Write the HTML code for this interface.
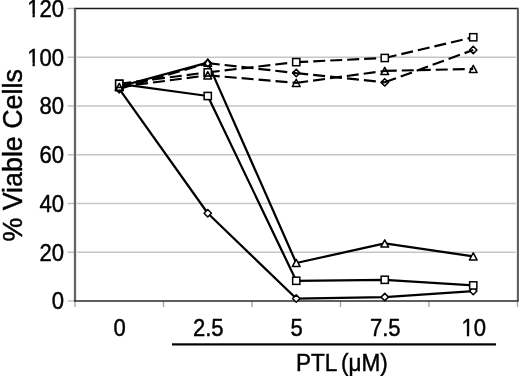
<!DOCTYPE html><html><head><meta charset="utf-8"><style>html,body{margin:0;padding:0;background:#fff;width:520px;height:376px;overflow:hidden}svg{display:block;filter:grayscale(1)}text{font-family:"Liberation Sans",sans-serif;fill:#000}</style></head><body>
<svg width="520" height="376" viewBox="0 0 520 376">
<line x1="76.8" y1="252.25" x2="515.9" y2="252.25" stroke="#c6c6c6" stroke-width="1.5"/>
<line x1="76.8" y1="203.50" x2="515.9" y2="203.50" stroke="#c6c6c6" stroke-width="1.5"/>
<line x1="76.8" y1="154.75" x2="515.9" y2="154.75" stroke="#c6c6c6" stroke-width="1.5"/>
<line x1="76.8" y1="106.00" x2="515.9" y2="106.00" stroke="#c6c6c6" stroke-width="1.5"/>
<line x1="76.8" y1="57.25" x2="515.9" y2="57.25" stroke="#c6c6c6" stroke-width="1.5"/>
<line x1="67.6" y1="301.00" x2="75.0" y2="301.00" stroke="#bdbdbd" stroke-width="1.4"/>
<line x1="67.6" y1="252.25" x2="75.0" y2="252.25" stroke="#bdbdbd" stroke-width="1.4"/>
<line x1="67.6" y1="203.50" x2="75.0" y2="203.50" stroke="#bdbdbd" stroke-width="1.4"/>
<line x1="67.6" y1="154.75" x2="75.0" y2="154.75" stroke="#bdbdbd" stroke-width="1.4"/>
<line x1="67.6" y1="106.00" x2="75.0" y2="106.00" stroke="#bdbdbd" stroke-width="1.4"/>
<line x1="67.6" y1="57.25" x2="75.0" y2="57.25" stroke="#bdbdbd" stroke-width="1.4"/>
<line x1="67.6" y1="8.50" x2="75.0" y2="8.50" stroke="#bdbdbd" stroke-width="1.4"/>
<line x1="75.00" y1="301.0" x2="75.00" y2="307" stroke="#a8a8a8" stroke-width="1.4"/>
<line x1="163.50" y1="301.0" x2="163.50" y2="307" stroke="#a8a8a8" stroke-width="1.4"/>
<line x1="252.00" y1="301.0" x2="252.00" y2="307" stroke="#a8a8a8" stroke-width="1.4"/>
<line x1="340.50" y1="301.0" x2="340.50" y2="307" stroke="#a8a8a8" stroke-width="1.4"/>
<line x1="429.00" y1="301.0" x2="429.00" y2="307" stroke="#a8a8a8" stroke-width="1.4"/>
<line x1="517.50" y1="301.0" x2="517.50" y2="307" stroke="#a8a8a8" stroke-width="1.4"/>
<line x1="74.0" y1="8.5" x2="518.5" y2="8.5" stroke="#1a1a1a" stroke-width="1.3"/>
<line x1="517.9" y1="8.5" x2="517.9" y2="301.0" stroke="#5e5e5e" stroke-width="2.1"/>
<line x1="75.0" y1="8.5" x2="75.0" y2="301.0" stroke="#646464" stroke-width="2.3"/>
<line x1="74.0" y1="301.0" x2="518.5" y2="301.0" stroke="#2a2a2a" stroke-width="1.6"/>
<polyline points="119.25,88.94 207.75,213.25 296.25,298.56 384.75,297.10 473.25,291.01" fill="none" stroke="#000" stroke-width="2.25" stroke-linejoin="round"/>
<polyline points="119.25,83.82 207.75,96.01 296.25,280.77 384.75,279.79 473.25,285.40" fill="none" stroke="#000" stroke-width="2.25" stroke-linejoin="round"/>
<polyline points="119.25,86.50 207.75,62.61 296.25,262.98 384.75,243.47 473.25,256.39" fill="none" stroke="#000" stroke-width="2.25" stroke-linejoin="round"/>
<path d="M119.25 88.94L207.75 63.10M207.75 63.10L296.25 73.09M296.25 73.09L384.75 82.36M384.75 82.36L473.25 49.94" fill="none" stroke="#000" stroke-width="2.15" stroke-dasharray="12 5"/>
<path d="M119.25 83.82L207.75 72.36M207.75 72.36L296.25 62.12M296.25 62.12L384.75 57.98M384.75 57.98L473.25 37.26" fill="none" stroke="#000" stroke-width="2.15" stroke-dasharray="12 5"/>
<path d="M119.25 86.99L207.75 75.29M207.75 75.29L296.25 82.84M296.25 82.84L384.75 70.90M384.75 70.90L473.25 68.95" fill="none" stroke="#000" stroke-width="2.15" stroke-dasharray="12 5"/>
<polygon points="119.25,85.24 122.95,88.94 119.25,92.64 115.55,88.94" fill="#fff" stroke="#000" stroke-width="1.5" stroke-linejoin="round"/>
<polygon points="207.75,209.55 211.45,213.25 207.75,216.95 204.05,213.25" fill="#fff" stroke="#000" stroke-width="1.5" stroke-linejoin="round"/>
<polygon points="296.25,294.86 299.95,298.56 296.25,302.26 292.55,298.56" fill="#fff" stroke="#000" stroke-width="1.5" stroke-linejoin="round"/>
<polygon points="384.75,293.40 388.45,297.10 384.75,300.80 381.05,297.10" fill="#fff" stroke="#000" stroke-width="1.5" stroke-linejoin="round"/>
<polygon points="473.25,287.31 476.95,291.01 473.25,294.71 469.55,291.01" fill="#fff" stroke="#000" stroke-width="1.5" stroke-linejoin="round"/>
<rect x="115.65" y="80.22" width="7.2" height="7.2" fill="#fff" stroke="#000" stroke-width="1.5"/>
<rect x="204.15" y="92.41" width="7.2" height="7.2" fill="#fff" stroke="#000" stroke-width="1.5"/>
<rect x="292.65" y="277.17" width="7.2" height="7.2" fill="#fff" stroke="#000" stroke-width="1.5"/>
<rect x="381.15" y="276.19" width="7.2" height="7.2" fill="#fff" stroke="#000" stroke-width="1.5"/>
<rect x="469.65" y="281.80" width="7.2" height="7.2" fill="#fff" stroke="#000" stroke-width="1.5"/>
<polygon points="119.25,82.90 123.15,90.15 115.35,90.15" fill="#fff" stroke="#000" stroke-width="1.5" stroke-linejoin="round"/>
<polygon points="207.75,59.01 211.65,66.26 203.85,66.26" fill="#fff" stroke="#000" stroke-width="1.5" stroke-linejoin="round"/>
<polygon points="296.25,259.38 300.15,266.62 292.35,266.62" fill="#fff" stroke="#000" stroke-width="1.5" stroke-linejoin="round"/>
<polygon points="384.75,239.88 388.65,247.12 380.85,247.12" fill="#fff" stroke="#000" stroke-width="1.5" stroke-linejoin="round"/>
<polygon points="473.25,252.79 477.15,260.04 469.35,260.04" fill="#fff" stroke="#000" stroke-width="1.5" stroke-linejoin="round"/>
<polygon points="119.25,85.24 122.95,88.94 119.25,92.64 115.55,88.94" fill="none" stroke="#000" stroke-width="1.5" stroke-linejoin="round"/>
<polygon points="207.75,59.40 211.45,63.10 207.75,66.80 204.05,63.10" fill="none" stroke="#000" stroke-width="1.5" stroke-linejoin="round"/>
<polygon points="296.25,69.39 299.95,73.09 296.25,76.79 292.55,73.09" fill="none" stroke="#000" stroke-width="1.5" stroke-linejoin="round"/>
<polygon points="384.75,78.66 388.45,82.36 384.75,86.06 381.05,82.36" fill="none" stroke="#000" stroke-width="1.5" stroke-linejoin="round"/>
<polygon points="473.25,46.24 476.95,49.94 473.25,53.64 469.55,49.94" fill="none" stroke="#000" stroke-width="1.5" stroke-linejoin="round"/>
<rect x="115.65" y="80.22" width="7.2" height="7.2" fill="#fff" stroke="#000" stroke-width="1.5"/>
<rect x="204.15" y="68.76" width="7.2" height="7.2" fill="#fff" stroke="#000" stroke-width="1.5"/>
<rect x="292.65" y="58.52" width="7.2" height="7.2" fill="#fff" stroke="#000" stroke-width="1.5"/>
<rect x="381.15" y="54.38" width="7.2" height="7.2" fill="#fff" stroke="#000" stroke-width="1.5"/>
<rect x="469.65" y="33.66" width="7.2" height="7.2" fill="#fff" stroke="#000" stroke-width="1.5"/>
<polygon points="119.25,83.39 123.15,90.64 115.35,90.64" fill="none" stroke="#000" stroke-width="1.5" stroke-linejoin="round"/>
<polygon points="207.75,71.69 211.65,78.94 203.85,78.94" fill="none" stroke="#000" stroke-width="1.5" stroke-linejoin="round"/>
<polygon points="296.25,79.24 300.15,86.49 292.35,86.49" fill="none" stroke="#000" stroke-width="1.5" stroke-linejoin="round"/>
<polygon points="384.75,67.30 388.65,74.55 380.85,74.55" fill="none" stroke="#000" stroke-width="1.5" stroke-linejoin="round"/>
<polygon points="473.25,65.35 477.15,72.60 469.35,72.60" fill="none" stroke="#000" stroke-width="1.5" stroke-linejoin="round"/>
<text transform="translate(64.00,309.40) scale(0.94,1)" font-size="23.5" text-anchor="end" stroke="#000" stroke-width="0.45">0</text>
<text transform="translate(64.00,260.65) scale(0.94,1)" font-size="23.5" text-anchor="end" stroke="#000" stroke-width="0.45">20</text>
<text transform="translate(64.00,211.90) scale(0.94,1)" font-size="23.5" text-anchor="end" stroke="#000" stroke-width="0.45">40</text>
<text transform="translate(64.00,163.15) scale(0.94,1)" font-size="23.5" text-anchor="end" stroke="#000" stroke-width="0.45">60</text>
<text transform="translate(64.00,114.40) scale(0.94,1)" font-size="23.5" text-anchor="end" stroke="#000" stroke-width="0.45">80</text>
<text transform="translate(64.00,65.65) scale(0.94,1)" font-size="23.5" text-anchor="end" stroke="#000" stroke-width="0.45">100</text>
<text transform="translate(64.00,16.90) scale(0.94,1)" font-size="23.5" text-anchor="end" stroke="#000" stroke-width="0.45">120</text>
<text transform="translate(119.75,336.30) scale(0.94,1)" font-size="23.5" text-anchor="middle" stroke="#000" stroke-width="0.45">0</text>
<text transform="translate(208.25,336.30) scale(0.94,1)" font-size="23.5" text-anchor="middle" stroke="#000" stroke-width="0.45">2.5</text>
<text transform="translate(296.75,336.30) scale(0.94,1)" font-size="23.5" text-anchor="middle" stroke="#000" stroke-width="0.45">5</text>
<text transform="translate(385.25,336.30) scale(0.94,1)" font-size="23.5" text-anchor="middle" stroke="#000" stroke-width="0.45">7.5</text>
<text transform="translate(473.75,336.30) scale(0.94,1)" font-size="23.5" text-anchor="middle" stroke="#000" stroke-width="0.45">10</text>
<text transform="translate(341.90,370.90) scale(0.94,1)" font-size="24" text-anchor="middle" stroke="#000" stroke-width="0.45" word-spacing="-2">PTL (&#956;M)</text>
<text transform="translate(21.6,155.4) rotate(-90) scale(0.958,1)" font-size="28" text-anchor="middle" stroke="#000" stroke-width="0.45">% Viable Cells</text>
<rect x="28.01" y="62.74" width="4.53" height="4.51" fill="#fff"/>
<rect x="34.82" y="62.74" width="4.19" height="4.51" fill="#fff"/>
<rect x="28.01" y="13.99" width="4.53" height="4.51" fill="#fff"/>
<rect x="34.82" y="13.99" width="4.19" height="4.51" fill="#fff"/>
<rect x="462.33" y="333.39" width="4.53" height="4.51" fill="#fff"/>
<rect x="469.14" y="333.39" width="4.19" height="4.51" fill="#fff"/>
<rect x="172" y="343.3" width="324" height="2.2" fill="#000"/>
</svg></body></html>
